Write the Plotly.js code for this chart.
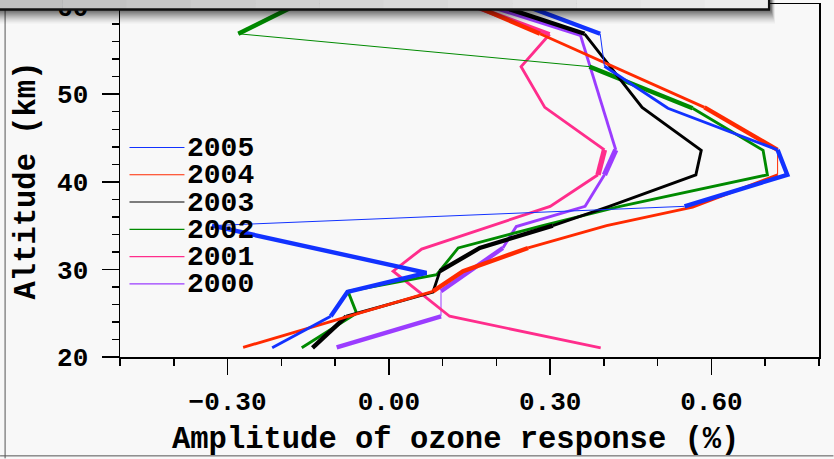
<!DOCTYPE html>
<html>
<head>
<meta charset="utf-8">
<script src="https://cdn.plot.ly/plotly-3.0.1.min.js"></script>
<style>
  html, body { margin: 0; padding: 0; background: #f8f8f8; }
  #chart { width: 834px; height: 459px; }
</style>
</head>
<body>
<div id="chart"></div>
<script>
// Ozone response amplitude profiles, one per year.
// Altitude (km) and amplitude (%) of each profile; the "cls" arrays give
// the significance class of each segment between consecutive levels
// (0 = weak, 1 = normal, 2 = strong, 3 = very strong).
const years = ["2005", "2004", "2003", "2002", "2001", "2000"];

const alt2005 = [21.05, 24.65, 27.43, 29.6, 35.0, 37.2, 40.8, 43.65, 48.4, 53.2, 56.9, 62.0];
const amp2005 = [-0.217, -0.108, -0.077, 0.070, -0.329, 0.550, 0.741, 0.723, 0.519, 0.401, 0.393, 0.171];
const cls2005 = [1, 2, 2, 2, 0, 2, 2, 1, 1, 0, 2];

const alt2004 = [21.1, 27.5, 29.8, 32.45, 35.0, 37.1, 40.8, 43.65, 48.5, 56.9, 62.0];
const amp2004 = [-0.271, 0.082, 0.138, 0.259, 0.405, 0.565, 0.723, 0.723, 0.587, 0.281, 0.088];
const cls2004 = [1, 2, 2, 1, 1, 1, 0, 2, 1, 2];

const alt2003 = [21.05, 24.65, 27.4, 29.8, 32.45, 35.0, 37.2, 40.8, 43.6, 48.5, 56.9, 62.0];
const amp2003 = [-0.142, -0.079, 0.082, 0.095, 0.169, 0.305, 0.41, 0.571, 0.581, 0.471, 0.364, 0.111];
const cls2003 = [2, 1, 1, 2, 2, 1, 1, 1, 1, 1, 2];

const alt2002 = [21.05, 25.0, 27.5, 29.4, 32.45, 35.0, 37.2, 40.8, 43.6, 48.4, 53.15, 56.9, 62.0];
const amp2002 = [-0.162, -0.06, -0.076, 0.089, 0.129, 0.286, 0.43, 0.704, 0.696, 0.565, 0.373, -0.280, -0.113];
const cls2002 = [1, 1, 1, 1, 1, 1, 1, 1, 1, 2, 0, 2];

const alt2001 = [21.05, 24.65, 29.8, 32.33, 37.2, 40.8, 43.65, 48.5, 53.15, 56.85, 62.0];
const amp2001 = [0.394, 0.113, 0.008, 0.061, 0.30, 0.389, 0.401, 0.290, 0.246, 0.299, 0.072];
const cls2001 = [1, 1, 1, 1, 1, 3, 1, 1, 1, 2];

const alt2000 = [21.1, 24.65, 27.5, 32.45, 34.9, 37.2, 40.8, 43.65, 56.8, 62.0];
const amp2000 = [-0.097, 0.097, 0.097, 0.212, 0.237, 0.365, 0.401, 0.422, 0.356, 0.089];
const cls2000 = [2, 0, 2, 1, 1, 1, 3, 1, 2];

const xTickVals = [-0.3, 0.0, 0.3, 0.6];
const xTickText = ["\u22120.30", "0.00", "0.30", "0.60"];
const yTickVals = [20, 30, 40, 50, 60];
const yTickText = ["20", "30", "40", "50", "60"];

// ---- styling ----
const FONT = "Liberation Mono, Courier New, monospace";
const colors = {
  "2005": "#1232ff", "2004": "#ff2a00", "2003": "#000000",
  "2002": "#008a00", "2001": "#ff2d8c", "2000": "#9b3cff"
};
const clsWidth = [1.0, 2.9, 4.4, 5.4];

const profiles = {
  "2005": { alt: alt2005, amp: amp2005, cls: cls2005 },
  "2004": { alt: alt2004, amp: amp2004, cls: cls2004 },
  "2003": { alt: alt2003, amp: amp2003, cls: cls2003 },
  "2002": { alt: alt2002, amp: amp2002, cls: cls2002 },
  "2001": { alt: alt2001, amp: amp2001, cls: cls2001 },
  "2000": { alt: alt2000, amp: amp2000, cls: cls2000 }
};

// Split a profile into runs of equal segment class so each run is one trace.
function runs(p) {
  const out = [];
  let start = 0;
  for (let i = 1; i <= p.cls.length; i++) {
    if (i === p.cls.length || p.cls[i] !== p.cls[start]) {
      out.push({ from: start, to: i, cls: p.cls[start] });
      start = i;
    }
  }
  return out;
}

const traces = [];
// oldest year first so the newest profile sits on top
years.slice().reverse().forEach(function (yr) {
  const p = profiles[yr];
  runs(p).forEach(function (r) {
    traces.push({
      type: "scatter", mode: "lines",
      x: p.amp.slice(r.from, r.to + 1),
      y: p.alt.slice(r.from, r.to + 1),
      line: { color: colors[yr], width: clsWidth[r.cls] },
      hoverinfo: "skip", showlegend: false
    });
  });
});

// plot frame in page pixels
const W = 834, H = 459;
const M = { l: 120, r: 14.5, t: 4, b: 101.5 };
const PW = W - M.l - M.r, PH = H - M.t - M.b;
const px = function (x) { return (x - M.l) / PW; };
const py = function (y) { return 1 - (y - M.t) / PH; };

const shapes = [];
const annotations = [];

// legend: short line plus year label
const legY0 = 147.7, legStep = 27.3;
years.forEach(function (yr, i) {
  const yy = legY0 + i * legStep;
  shapes.push({
    type: "line", xref: "paper", yref: "paper",
    x0: px(129.5), x1: px(184.5), y0: py(yy), y1: py(yy),
    line: { color: colors[yr], width: 1.2 }
  });
  annotations.push({
    xref: "paper", yref: "paper", x: px(185), y: py(yy + 1),
    xanchor: "left", yanchor: "middle", showarrow: false,
    text: yr, font: { family: FONT, size: 28, color: "#000", weight: "bold" }
  });
});

const titleFont = { family: FONT, size: 30.5, color: "#000", weight: "bold" };
// x-axis title
annotations.push({
  xref: "paper", yref: "paper", x: px(456), y: py(441),
  xanchor: "center", yanchor: "middle", showarrow: false,
  text: "Amplitude of ozone response (%)", font: titleFont
});

// header panel across the top with a soft drop shadow
const boxR = 769.5, boxB = 9.5;
for (let k = 0; k < 7; k++) {
  shapes.push({
    type: "rect", xref: "paper", yref: "paper", layer: "above",
    x0: px(-2), x1: px(boxR + 6 - k * 0.6), y0: py(-2), y1: py(boxB + 14 - k * 2),
    fillcolor: "rgba(0,0,0," + (0.04 + k * 0.022).toFixed(3) + ")",
    line: { width: 0 }
  });
}
const strips = 12;
for (let k = 0; k < strips; k++) {
  const g = Math.round(192 + (236 - 192) * k / (strips - 1));
  shapes.push({
    type: "rect", xref: "paper", yref: "paper", layer: "above",
    x0: px(-2 + k * (boxR + 2) / strips), x1: px(-2 + (k + 1) * (boxR + 2) / strips + 0.5),
    y0: py(-2), y1: py(boxB),
    fillcolor: "rgb(" + g + "," + g + "," + g + ")", line: { width: 0 }
  });
}
shapes.push({
  type: "line", xref: "paper", yref: "paper", layer: "above",
  x0: px(-2), x1: px(boxR + 1), y0: py(boxB), y1: py(boxB),
  line: { color: "#111", width: 2.6 }
});
shapes.push({
  type: "line", xref: "paper", yref: "paper", layer: "above",
  x0: px(boxR), x1: px(boxR), y0: py(-2), y1: py(boxB),
  line: { color: "#111", width: 2.2 }
});

// page border lines
shapes.push({
  type: "line", xref: "paper", yref: "paper", layer: "below",
  x0: px(5), x1: px(5), y0: py(0), y1: py(H),
  line: { color: "#555", width: 1 }
});
shapes.push({
  type: "line", xref: "paper", yref: "paper", layer: "below",
  x0: px(0), x1: px(W), y0: py(456.5), y1: py(456.5),
  line: { color: "#555", width: 1 }
});

const axisFont = { family: FONT, size: 26, color: "#000", weight: "bold" };

const layout = {
  width: W, height: H,
  margin: M,
  paper_bgcolor: "#f8f8f8",
  plot_bgcolor: "#f8f8f8",
  showlegend: false,
  xaxis: {
    range: [-0.5, 0.8], showgrid: false, zeroline: false,
    tickmode: "array", tickvals: xTickVals, ticktext: xTickText,
    ticks: "outside", ticklen: 16, tickwidth: 1.5, tickcolor: "#000",
    minor: { dtick: 0.1, tick0: 0, ticks: "outside", ticklen: 7, tickwidth: 1.5, tickcolor: "#000" },
    showline: true, linecolor: "#000", linewidth: 1.5, mirror: true,
    tickfont: axisFont, ticklabelstandoff: 4
  },
  yaxis: {
    range: [20, 60.3], showgrid: false, zeroline: false,
    tickmode: "array", tickvals: yTickVals, ticktext: yTickText,
    ticks: "outside", ticklen: 17, tickwidth: 1.5, tickcolor: "#000",
    minor: { dtick: 2, tick0: 20, ticks: "outside", ticklen: 7, tickwidth: 1.5, tickcolor: "#000" },
    showline: true, linecolor: "#000", linewidth: 1.5, mirror: true,
    tickfont: axisFont, ticklabelstandoff: 8, ticklabeloverflow: "allow",
    title: { text: "Altitude (km)", font: titleFont, standoff: 12 }
  },
  shapes: shapes,
  annotations: annotations
};

Plotly.newPlot("chart", traces, layout, { staticPlot: true, displayModeBar: false });
</script>
</body>
</html>
